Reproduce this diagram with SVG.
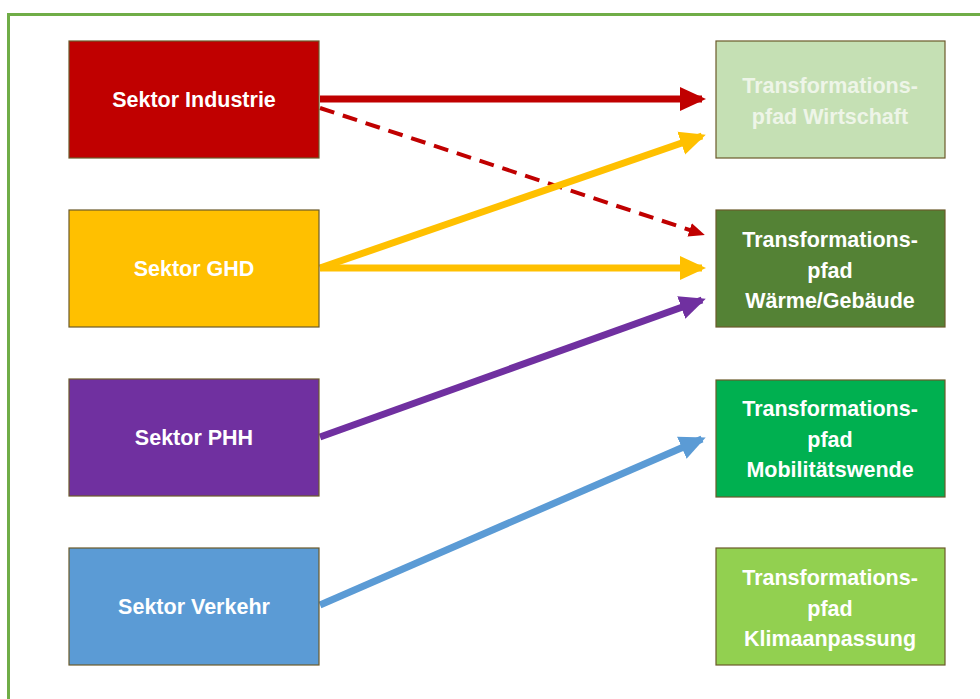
<svg xmlns="http://www.w3.org/2000/svg" width="980" height="699" viewBox="0 0 980 699">
<defs>
<style>
.box{stroke:#6b5a2a;stroke-width:1.2}
.t{font-family:"Liberation Sans",Arial,sans-serif;font-weight:bold;font-size:21.5px;fill:#ffffff;text-anchor:middle}
.c{fill:none;stroke-width:7}
.d{fill:none;stroke-width:4;stroke-dasharray:15,9}
</style>
<marker id="mr" markerWidth="26" markerHeight="26" refX="22" refY="13" orient="auto" markerUnits="userSpaceOnUse" viewBox="0 0 26 26"><path d="M0,1 L26,13 L0,25 z" fill="#C00000"/></marker>
<marker id="mrd" markerWidth="16" markerHeight="16" refX="13" refY="8" orient="auto" markerUnits="userSpaceOnUse" viewBox="0 0 16 16"><path d="M0,1 L16,8 L0,15 z" fill="#C00000"/></marker>
<marker id="my" markerWidth="26" markerHeight="26" refX="22" refY="13" orient="auto" markerUnits="userSpaceOnUse" viewBox="0 0 26 26"><path d="M0,1 L26,13 L0,25 z" fill="#FFC000"/></marker>
<marker id="mp" markerWidth="26" markerHeight="26" refX="22" refY="13" orient="auto" markerUnits="userSpaceOnUse" viewBox="0 0 26 26"><path d="M0,1 L26,13 L0,25 z" fill="#7030A0"/></marker>
<marker id="mb" markerWidth="26" markerHeight="26" refX="22" refY="13" orient="auto" markerUnits="userSpaceOnUse" viewBox="0 0 26 26"><path d="M0,1 L26,13 L0,25 z" fill="#5B9BD5"/></marker>
</defs>
<rect x="0" y="0" width="980" height="699" fill="#ffffff"/>
<rect x="8.5" y="14.5" width="990" height="720" fill="none" stroke="#70AD47" stroke-width="3"/>
<g id="connectors">
<line class="c" x1="320" y1="99" x2="702" y2="99" stroke="#C00000" marker-end="url(#mr)"/>
<line class="d" x1="320" y1="108" x2="702" y2="234" stroke="#C00000" marker-end="url(#mrd)"/>
<line class="c" x1="320" y1="268" x2="702" y2="136" stroke="#FFC000" marker-end="url(#my)"/>
<line class="c" x1="320" y1="268" x2="702" y2="268" stroke="#FFC000" marker-end="url(#my)"/>
<line class="c" x1="320" y1="437" x2="702" y2="300" stroke="#7030A0" marker-end="url(#mp)"/>
<line class="c" x1="320" y1="605" x2="702" y2="439" stroke="#5B9BD5" marker-end="url(#mb)"/>
</g>
<g id="industrie"><rect class="box" x="69" y="41" width="250" height="117" fill="#C00000"/><text class="t" x="194" y="107">Sektor Industrie</text></g>
<g id="ghd"><rect class="box" x="69" y="210" width="250" height="117" fill="#FFC000"/><text class="t" x="194" y="276">Sektor GHD</text></g>
<g id="phh"><rect class="box" x="69" y="379" width="250" height="117" fill="#7030A0"/><text class="t" x="194" y="445">Sektor PHH</text></g>
<g id="verkehr"><rect class="box" x="69" y="548" width="250" height="117" fill="#5B9BD5"/><text class="t" x="194" y="614">Sektor Verkehr</text></g>
<g id="wirtschaft"><rect class="box" x="716" y="41" width="229" height="117" fill="#C5E0B4"/><text class="t" x="830" y="93" style="fill:#EEF5E8">Transformations-</text><text class="t" x="830" y="124" style="fill:#EEF5E8">pfad Wirtschaft</text></g>
<g id="waerme"><rect class="box" x="716" y="210" width="229" height="117" fill="#548235"/><text class="t" x="830" y="247">Transformations-</text><text class="t" x="830" y="278">pfad</text><text class="t" x="830" y="308">Wärme/Gebäude</text></g>
<g id="mobilitaet"><rect class="box" x="716" y="380" width="229" height="117" fill="#00B050"/><text class="t" x="830" y="416">Transformations-</text><text class="t" x="830" y="447">pfad</text><text class="t" x="830" y="477">Mobilitätswende</text></g>
<g id="klima"><rect class="box" x="716" y="548" width="229" height="117" fill="#92D050"/><text class="t" x="830" y="585">Transformations-</text><text class="t" x="830" y="616">pfad</text><text class="t" x="830" y="646">Klimaanpassung</text></g>
</svg>
